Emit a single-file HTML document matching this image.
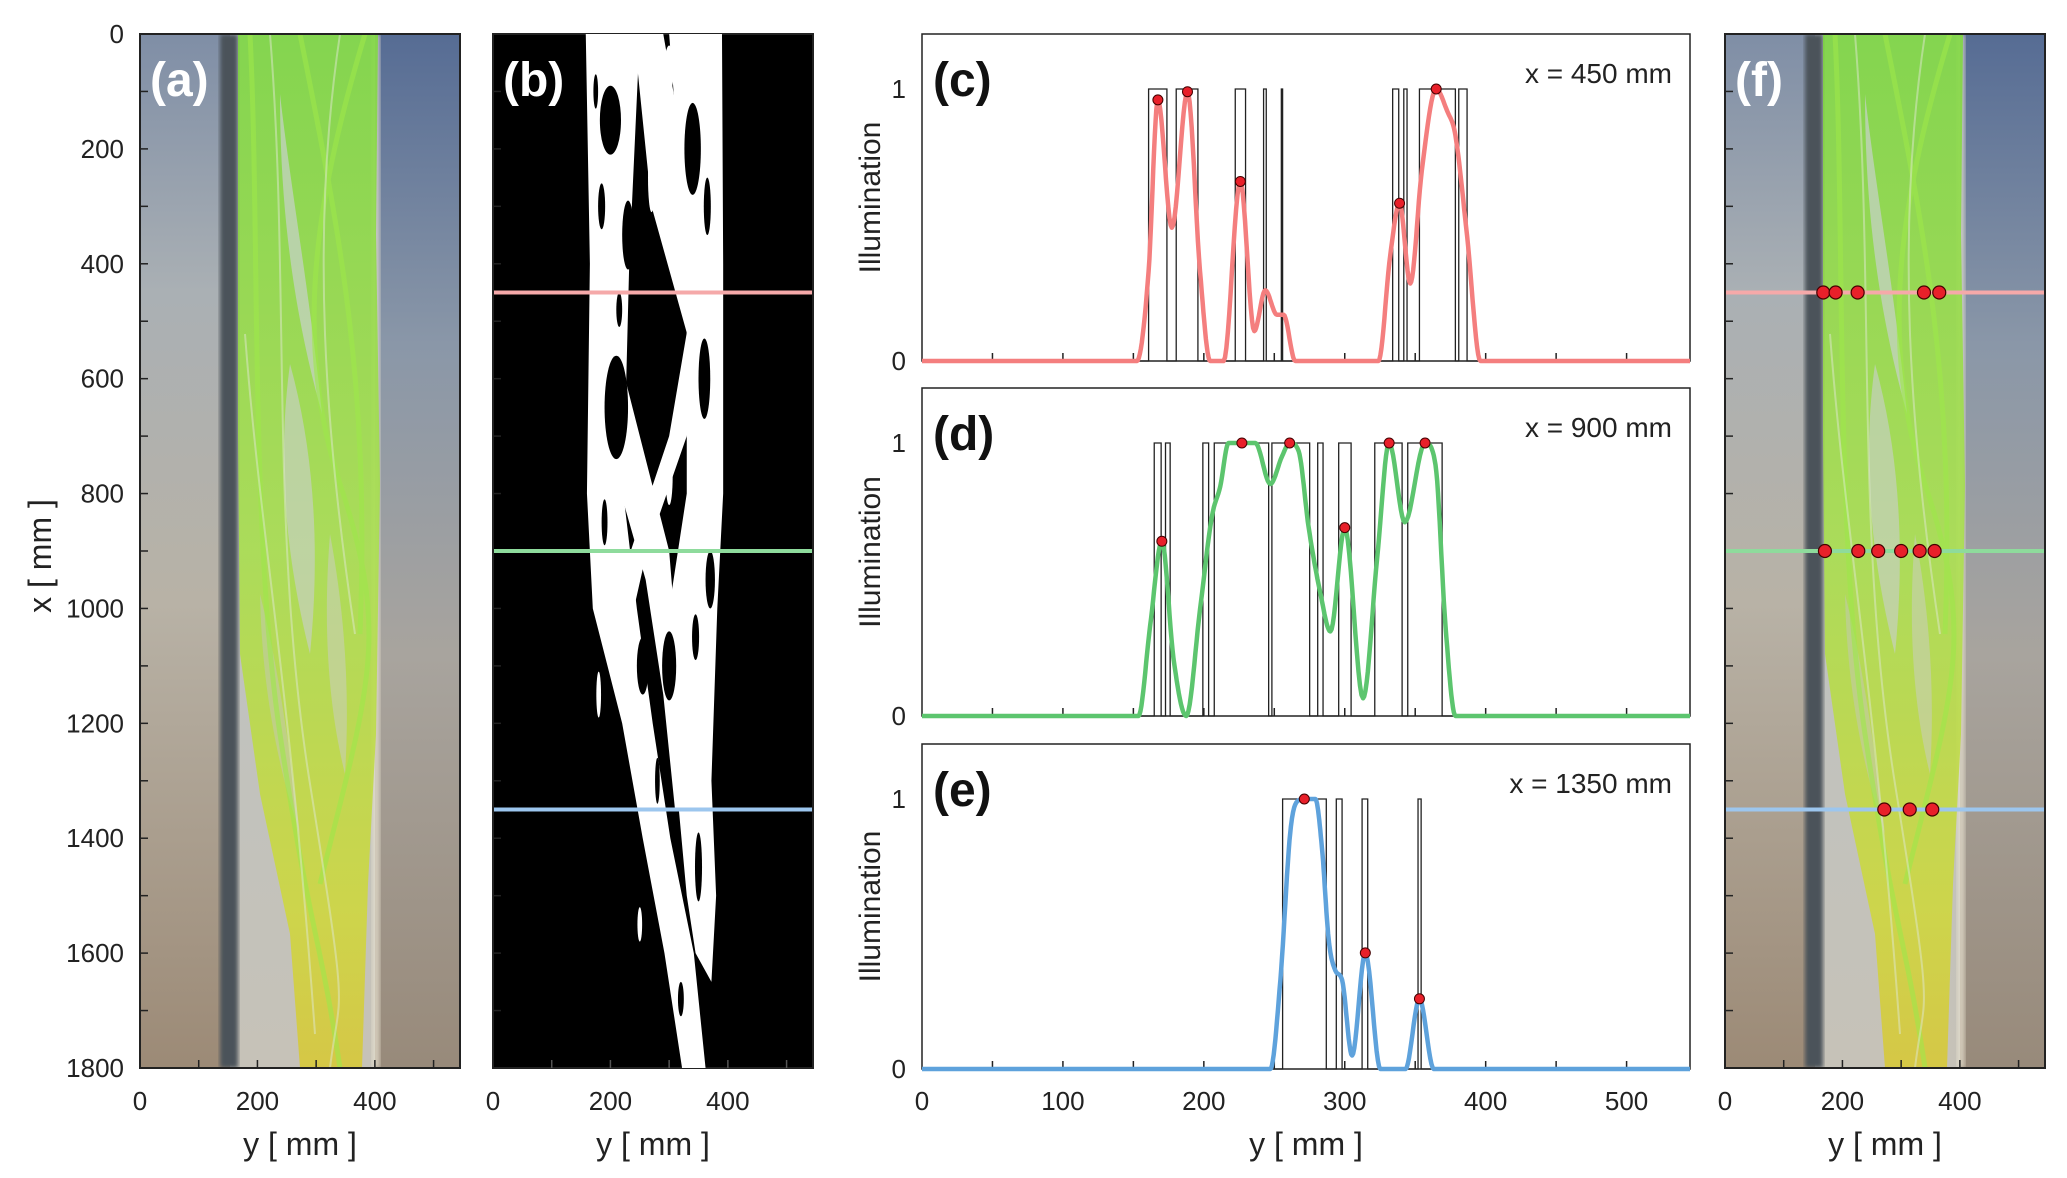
<!DOCTYPE html>
<html><head><meta charset="utf-8">
<style>
html,body{margin:0;padding:0;background:#fff;}
svg{display:block;font-family:"Liberation Sans",sans-serif;}
</style></head>
<body>
<svg id="fig" width="2067" height="1178" viewBox="0 0 2067 1178" xmlns="http://www.w3.org/2000/svg">
<defs>
  <linearGradient id="gLeft" x1="0" y1="0" x2="0" y2="1">
    <stop offset="0" stop-color="#7f8ea6"/><stop offset="0.25" stop-color="#aab0b4"/>
    <stop offset="0.55" stop-color="#b8b2a6"/><stop offset="1" stop-color="#9c8a76"/>
  </linearGradient>
  <linearGradient id="gRight" x1="0" y1="0" x2="0" y2="1">
    <stop offset="0" stop-color="#566c94"/><stop offset="0.3" stop-color="#8a97a8"/>
    <stop offset="0.6" stop-color="#a8a49e"/><stop offset="1" stop-color="#988a7a"/>
  </linearGradient>
  <linearGradient id="gMid" x1="0" y1="0" x2="0" y2="1">
    <stop offset="0" stop-color="#b7c2c8"/><stop offset="1" stop-color="#c6c2b8"/>
  </linearGradient>
  <linearGradient id="gBraid" x1="0" y1="0" x2="0" y2="1">
    <stop offset="0" stop-color="#7bd83a"/><stop offset="0.5" stop-color="#a8e048"/>
    <stop offset="0.85" stop-color="#cfd838"/><stop offset="1" stop-color="#d8c832"/>
  </linearGradient>
  <filter id="soft"><feGaussianBlur stdDeviation="2"/></filter>
  <clipPath id="clipPhoto"><rect x="0" y="0" width="320" height="1034"/></clipPath>
  <g id="photo">
    <g clip-path="url(#clipPhoto)">
      <rect x="0" y="0" width="90" height="1034" fill="url(#gLeft)"/>
      <rect x="90" y="0" width="150" height="1034" fill="url(#gMid)"/>
      <rect x="235" y="0" width="85" height="1034" fill="url(#gRight)"/>
      <rect x="80" y="0" width="18" height="1034" fill="#4c525a" filter="url(#soft)"/>
      <rect x="232" y="0" width="8" height="1034" fill="#e8e2d0" opacity="0.7" filter="url(#soft)"/>
      <path d="M98,0 L238,0 L236,200 L240,450 L236,700 L228,850 L222,1034 L160,1034 L150,900 L120,760 L100,620 L98,400 Z" fill="url(#gBraid)" opacity="0.85"/>
      <path d="M140,60 C150,150 170,260 182,380 C160,300 140,200 140,60 Z" fill="#c8d2cc" opacity="0.7"/>
      <path d="M150,330 C175,420 180,520 170,620 C150,540 135,440 150,330 Z" fill="#c8d0c8" opacity="0.65"/>
      <path d="M190,500 C205,580 210,660 205,740 C190,680 182,600 190,500 Z" fill="#c8ceb8" opacity="0.6"/>
      <path d="M120,560 C140,640 150,720 160,800 C140,740 122,660 120,560 Z" fill="#c4c8b8" opacity="0.5"/>
      <g fill="none" stroke="#9ee84a" stroke-width="5" opacity="0.6">
        <path d="M110,0 C120,200 110,500 140,700 S180,900 200,1034"/>
        <path d="M225,0 C180,150 150,300 200,450 S230,650 180,850"/>
        <path d="M160,0 C200,200 230,350 220,600"/>
      </g>
      <g fill="none" stroke="#dfe8d0" stroke-width="2" opacity="0.5">
        <path d="M130,0 C150,250 130,500 170,750 S200,950 190,1034"/>
        <path d="M200,0 C170,200 185,400 215,600"/>
        <path d="M105,300 C120,500 150,650 175,1000"/>
      </g>
    </g>
    <rect x="0" y="0" width="320" height="1034" fill="none" stroke="#222" stroke-width="2"/>
  </g>
</defs>
</svg>
<script>
// ---------- data ----------
const profileLabels = ["x = 450 mm","x = 900 mm","x = 1350 mm"];
const profileXmm = [450, 900, 1350];
// binary (thresholded) intervals [start,end] in mm
const binC = [[160.8,173.8],[180.4,195.8],[222.3,229.6],[242.4,244.3],[255,255.9],[334,338.3],[341.9,344.2],[353,378.5],[380.9,386.8]];
const binD = [[164.8,169.7],[172.8,176.1],[199.3,203.4],[207.4,246],[248.3,275.1],[280.8,284.6],[295.7,304.5],[321.3,340.7],[344.7,369.1]];
const binE = [[255.9,286.9],[294,298.1],[312.3,316.3],[352,354.2]];
// smoothed illumination curves: positions (mm) and values
const curveCy = [0,152.5,160.8,167.4,177.3,188.4,197.3,204.5,214,225.9,235.8,243.6,251.9,256.6,264.9,323.9,332.3,338.9,346.5,354.7,364.9,372.6,378.5,386.8,396.3,545];
const curveCv = [0,0,0.33,0.96,0.49,0.99,0.33,0,0,0.66,0.11,0.26,0.17,0.17,0,0,0.39,0.58,0.285,0.70,1.0,0.92,0.83,0.46,0,0];
const curveDy = [0,153.6,161.9,170.2,178.5,187.5,197.3,205.7,211.6,217.6,227.0,236.5,247.2,255.4,260.9,267.3,274.4,282.7,289.8,300.0,313.0,323.0,331.5,342.6,357.0,364.4,371.5,378.6,545];
const curveDv = [0,0,0.33,0.64,0.21,0,0.39,0.73,0.84,1.0,1.0,1.0,0.85,0.95,1.0,0.97,0.69,0.45,0.31,0.69,0.065,0.58,1.0,0.71,1.0,0.92,0.33,0,0];
const curveEy = [0,247.2,254.3,261.4,266.1,271.3,279.1,283.8,288.6,293.3,298.1,305.2,314.6,325.3,343.1,353.0,363.2,545];
const curveEv = [0,0,0.33,0.88,0.99,1.0,1.0,0.82,0.48,0.365,0.33,0.05,0.43,0,0,0.26,0,0];
// detected peaks
const peakCy = [167.4,188.4,225.9,338.9,364.9];
const peakCv = [0.96,0.99,0.66,0.58,1.0];
const peakDy = [170.2,227.0,260.9,300.0,331.5,357.0];
const peakDv = [0.64,1.0,1.0,0.69,1.0,1.0];
const peakEy = [271.3,314.6,353.0];
const peakEv = [1.0,0.43,0.26];
const xTicksProfile = [0,100,200,300,400,500];
const xTicksImage = [0,200,400];
const yTicksImage = [0,200,400,600,800,1000,1200,1400,1600,1800];

// ---------- helpers ----------
const NS = "http://www.w3.org/2000/svg";
const svg = document.getElementById('fig');
function mk(tag, attrs, parent, text){
  const e = document.createElementNS(NS, tag);
  for (const k in attrs) e.setAttribute(k, attrs[k]);
  if (text !== undefined) e.textContent = text;
  (parent||svg).appendChild(e);
  return e;
}
const IMG_T = 34, IMG_B = 1068;
const imgY = mm => IMG_T + mm * (IMG_B - IMG_T) / 1800;
const imgX = (L, mm) => L + mm * 320 / 545;
const PL = 922, PR = 1690;
const px = mm => PL + mm * (PR - PL) / 545;
const panels = [
  {T:34, B:361, bin:binC, cy:curveCy, cv:curveCv, py:peakCy, pv:peakCv, col:"#f47e7e", line:"#f5a9a9", lab:"(c)", name:"c"},
  {T:388, B:716, bin:binD, cy:curveDy, cv:curveDv, py:peakDy, pv:peakDv, col:"#5cc56e", line:"#8edb9c", lab:"(d)", name:"d"},
  {T:744, B:1069, bin:binE, cy:curveEy, cv:curveEv, py:peakEy, pv:peakEv, col:"#5ea2dc", line:"#9cc6ee", lab:"(e)", name:"e"}
];
function monotone(xs, ys, n){
  const m = xs.length, d = [], t = new Array(m);
  for (let i=0;i<m-1;i++) d.push((ys[i+1]-ys[i])/(xs[i+1]-xs[i]));
  t[0]=d[0]; t[m-1]=d[m-2];
  for (let i=1;i<m-1;i++){ t[i] = (d[i-1]*d[i]<=0)?0:(d[i-1]+d[i])/2; }
  for (let i=0;i<m-1;i++){ if(d[i]===0){t[i]=0;t[i+1]=0;continue;}
    const a=t[i]/d[i], b=t[i+1]/d[i], s=a*a+b*b; if(s>9){const k=3/Math.sqrt(s);t[i]=k*a*d[i];t[i+1]=k*b*d[i];} }
  const out=[];
  for (let i=0;i<m-1;i++){ const h=xs[i+1]-xs[i];
    for(let j=0;j<n;j++){ const u=j/n, u2=u*u, u3=u2*u;
      const y=(2*u3-3*u2+1)*ys[i]+(u3-2*u2+u)*h*t[i]+(-2*u3+3*u2)*ys[i+1]+(u3-u2)*h*t[i+1];
      out.push([xs[i]+u*h, y]); } }
  out.push([xs[m-1], ys[m-1]]);
  return out;
}

// ---------- image panels ----------
function imagePanel(L, name, label, binary){
  const g = mk('g', {});
  
  
  if (!binary){
    const u = mk('use', {href:'#photo', x:L, y:IMG_T}, g);
    
    
  } else {
    const bg = mk('rect', {x:L, y:IMG_T, width:320, height:1034, fill:'#000', stroke:'#222','stroke-width':2}, g);
    
    
    const strands = [
      [[158,0],[250,0],[232,400],[222,800],[245,1000],[272,1200],[302,1400],[342,1600],[362,1800],[322,1800],[292,1600],[255,1400],[220,1200],[170,1000],[160,800],[165,400]],
      [[300,0],[390,0],[392,400],[392,800],[382,1000],[372,1300],[380,1500],[372,1650],[345,1600],[330,1500],[312,1300],[300,1000],[330,800],[330,400]],
      [[240,0],[290,0],[350,350],[375,500],[330,700],[262,900],[240,1000],[228,920],[300,700],[330,520],[270,300]],
      [[180,500],[215,560],[300,900],[320,1150],[340,1350],[310,1350],[290,1150],[260,950],[190,700]]
    ];
    strands.forEach((s,i)=>{
      const p = mk('polygon', {points: s.map(q=>imgX(L,q[0])+','+imgY(q[1])).join(' '), fill:'#fff'}, g);
      
      
    });
    const holes = [[200,150,18,60],[340,200,14,80],[210,650,20,90],[360,600,10,70],[255,1100,10,50],[300,1100,12,60],[350,1450,6,60],[230,350,10,60],[370,950,8,50],
                   [185,300,6,40],[215,480,5,30],[365,300,6,50],[190,850,5,40],[345,1050,6,40],[280,1300,4,40],[320,1680,5,30],[175,100,4,30]];
    holes.forEach((h,i)=>{
      const e = mk('ellipse', {cx:imgX(L,h[0]), cy:imgY(h[1]), rx:h[2]*320/545, ry:h[3]*1034/1800, fill:'#000'}, g);
      
      
    });
    const specks = [[300,60,8,40],[270,250,6,60],[350,480,5,40],[180,1150,4,40],[360,1200,5,60],[250,1550,4,30],[300,770,6,50]];
    specks.forEach((h,i)=>{
      const e = mk('ellipse', {cx:imgX(L,h[0]), cy:imgY(h[1]), rx:h[2]*320/545, ry:h[3]*1034/1800, fill:'#fff'}, g);
      
      
    });
  }
  for (let v=100; v<1800; v+=100){
    const t = mk('line', {x1:L, x2:L+8, y1:imgY(v), y2:imgY(v), stroke:'#222','stroke-width':1.5}, g);
    
    
  }
  for (let v=100; v<545; v+=100){
    const t = mk('line', {x1:imgX(L,v), x2:imgX(L,v), y1:IMG_B, y2:IMG_B-8, stroke: binary?'#555':'#222','stroke-width':1.5}, g);
    
    
  }
  xTicksImage.forEach(v=>{
    const t = mk('text', {x:imgX(L,v), y:1110, 'font-size':26, 'text-anchor':'middle', fill:'#222'}, g, String(v));
    
    
  });
  const xt = mk('text', {x:L+160, y:1155, 'font-size':32, 'text-anchor':'middle', fill:'#222'}, g, 'y [ mm ]');
  
  
  const pl = mk('text', {x:L+10, y:96, 'font-size':48, 'font-weight':'bold', fill:'#fff'}, g, label);
  
  
  return g;
}
const gA = imagePanel(140, 'a', '(a)', false);
yTicksImage.forEach(v=>{
  const t = mk('text', {x:124, y:imgY(v)+9, 'font-size':26, 'text-anchor':'end', fill:'#222'}, gA, String(v));
  
  
});
const yTitle = mk('text', {x:0, y:0, 'font-size':32, 'text-anchor':'middle', fill:'#222', transform:'translate(51,556) rotate(-90)'}, gA, 'x [ mm ]');


const gB = imagePanel(493, 'b', '(b)', true);
const gF = imagePanel(1725, 'f', '(f)', false);

profileXmm.forEach((xm, i)=>{
  [[493,gB],[1725,gF]].forEach(([L,g])=>{
    const l = mk('line', {x1:L+1, x2:L+319, y1:imgY(xm), y2:imgY(xm), stroke:panels[i].line, 'stroke-width':4}, g);
    
    
  });
  panels[i].py.forEach(y=>{
    const c = mk('circle', {cx:imgX(1725,y), cy:imgY(xm), r:6.5, fill:'#e8202a', stroke:'#400', 'stroke-width':1.2}, gF);
    
    
  });
});

// ---------- profile panels ----------
panels.forEach((p, i)=>{
  const g = mk('g', {});
  
  
  const vy = v => p.B - v * (p.B - p.T - 55);
  const fr = mk('rect', {x:PL, y:p.T, width:PR-PL, height:p.B-p.T, fill:'#fff', stroke:'#222', 'stroke-width':1.5}, g);
  
  
  for (let v=50; v<545; v+=50){
    const t = mk('line', {x1:px(v), x2:px(v), y1:p.B, y2:p.B-8, stroke:'#222', 'stroke-width':1.5}, g);
    
    
  }
  [0,1].forEach(v=>{
    const t = mk('text', {x:906, y:vy(v)+9, 'font-size':26, 'text-anchor':'end', fill:'#222'}, g, String(v));
    
    
  });
  let d = 'M' + px(0) + ',' + vy(0);
  p.bin.forEach(b=>{ d += ' L'+px(b[0])+','+vy(0)+' L'+px(b[0])+','+vy(1)+' L'+px(b[1])+','+vy(1)+' L'+px(b[1])+','+vy(0); });
  d += ' L' + px(545) + ',' + vy(0);
  const bl = mk('path', {d:d, fill:'none', stroke:'#222', 'stroke-width':1.3}, g);
  
  
  const pts = monotone(p.cy, p.cv, 12);
  const cl = mk('polyline', {points: pts.map(q=>px(q[0]).toFixed(1)+','+vy(Math.max(0,q[1])).toFixed(1)).join(' '), fill:'none', stroke:p.col, 'stroke-width':4.5, 'stroke-linejoin':'round'}, g);
  
  
  p.py.forEach((y,k)=>{
    const c = mk('circle', {cx:px(y), cy:vy(p.pv[k]), r:5, fill:'#e8202a', stroke:'#400', 'stroke-width':1}, g);
    
    
  });
  const lab = mk('text', {x:933, y:p.T+62, 'font-size':48, 'font-weight':'bold', fill:'#111'}, g, p.lab);
  
  
  const ann = mk('text', {x:1672, y:p.T+49, 'font-size':28, 'text-anchor':'end', fill:'#222'}, g, profileLabels[i]);
  
  
  const yt = mk('text', {x:0, y:0, 'font-size':30, 'text-anchor':'middle', fill:'#222', transform:'translate(880,'+((p.T+p.B)/2)+') rotate(-90)'}, g, 'Illumination');
  
  
  if (i === 2){
    xTicksProfile.forEach(v=>{
      const t = mk('text', {x:px(v), y:1110, 'font-size':26, 'text-anchor':'middle', fill:'#222'}, g, String(v));
      
      
    });
    const xt = mk('text', {x:(PL+PR)/2, y:1155, 'font-size':32, 'text-anchor':'middle', fill:'#222'}, g, 'y [ mm ]');
    
    
  }
});
</script>
</body></html>
